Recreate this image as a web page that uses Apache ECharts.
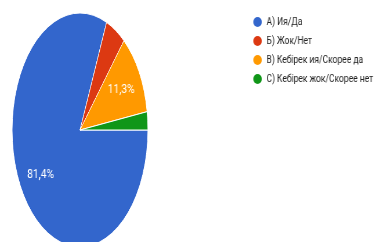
<!DOCTYPE html>
<html>
<head>
<meta charset="utf-8">
<script src="https://cdn.jsdelivr.net/npm/echarts@6/dist/echarts.min.js"></script>
<style>
  html, body { margin: 0; padding: 0; background: #fff; }
  #wrap { position: relative; width: 376px; height: 242px; overflow: hidden; }
  /* the pie in the picture is an ellipse, so the slices are squeezed */
  #pie-box { position: absolute; left: 0; top: 0; width: 648px; height: 242px;
             transform: scaleX(0.58); transform-origin: 0 0; }
  /* legend + labels, slightly condensed text */
  #label-box { position: absolute; left: 0; top: 0; width: 442px; height: 242px;
               transform: scaleX(0.85); transform-origin: 0 0; }
</style>
</head>
<body>
<div id="wrap">
  <div id="pie-box"></div>
  <div id="label-box"></div>
</div>
<script>
const categories = ['А) Ия/Да', 'Б) Жок/Нет', 'В) Кебірек ия/Скорее да', 'С) Кебірек жок/Скорее нет'];
const shares = [81.4, 4.8, 11.3, 2.5];

const palette = ['#3366cc', '#dc3912', '#ff9900', '#109618'];
const PIE_SX = 0.58, LBL_SX = 0.85;
const CX = 80, CY = 130, R = 117;   // centre / radius in the final picture

const pieData = categories.map((name, i) => ({ name: name, value: shares[i] }));

const pieChart = echarts.init(document.getElementById('pie-box'));
pieChart.setOption({
  animation: false,
  color: palette,
  series: [{
    type: 'pie',
    center: [CX / PIE_SX, CY],
    radius: [0, R],
    startAngle: 0,
    clockwise: true,
    silent: true,
    label: { show: false },
    labelLine: { show: false },
    itemStyle: { borderColor: '#fff', borderWidth: 1 },
    data: pieData
  }]
});

const cxB = CX / LBL_SX;
const k = PIE_SX / LBL_SX;
const labelChart = echarts.init(document.getElementById('label-box'));
labelChart.setOption({
  animation: false,
  legend: {
    orient: 'vertical',
    left: 293,
    top: 12,
    icon: 'circle',
    itemWidth: 11,
    itemHeight: 10,
    itemGap: 9,
    selectedMode: false,
    textStyle: { fontFamily: 'Roboto', fontSize: 10, color: '#222' },
    data: categories.map((name, i) => ({ name: name, itemStyle: { color: palette[i] } }))
  },
  series: [{
    type: 'pie',
    center: [cxB, CY],
    radius: [R * 0.34, R],
    startAngle: 0,
    clockwise: true,
    silent: true,
    avoidLabelOverlap: false,
    itemStyle: { color: 'rgba(0,0,0,0)' },
    labelLine: { show: false },
    label: {
      show: true,
      position: 'inside',
      color: '#fff',
      fontFamily: 'Roboto',
      fontSize: 12,
      formatter: p => p.value < 5 ? '' : p.value.toFixed(1).replace('.', ',') + '%'
    },
    labelLayout: function (p) {
      const mx = p.labelRect.x + p.labelRect.width / 2;
      const my = p.labelRect.y + p.labelRect.height / 2;
      return { x: cxB + (mx - cxB) * k, y: my, align: 'center', verticalAlign: 'middle' };
    },
    data: pieData
  }]
});
</script>
</body>
</html>
